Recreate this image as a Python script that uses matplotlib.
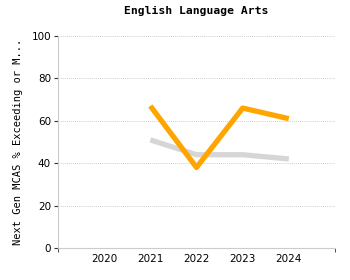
import numpy as np
from matplotlib import pyplot as plt

years = ['2020', '2021', '2022', '2023', '2024']
school = [np.nan, 67, 38, 66, 61]
state = [np.nan, 51, 44, 44, 42]
yticks = [0, 20, 40, 60, 80, 100]

plt.rcParams['font.family'] = 'DejaVu Sans'
fig = plt.figure(figsize=(3.5, 2.8), dpi=100)
ax = fig.add_axes([58/350, 1-248/280, (335-58)/350, (248-36)/280])

x = np.arange(len(years))
ax.plot(x, state, color='#d6d6d6', lw=3.8, solid_capstyle='butt', zorder=2)
ax.plot(x, school, color='#ffa500', lw=3.8, solid_capstyle='butt', zorder=3)

ax.set_xlim(-1, 5)
ax.set_ylim(0, 100)
ax.set_xticks(x)
ax.set_xticklabels(years)
ax.set_xticks([-1, 5], minor=True)
ax.set_yticks(yticks)
for s in ['top', 'right']:
    ax.spines[s].set_visible(False)
for s in ['left', 'bottom']:
    ax.spines[s].set_color('#cccccc')
ax.grid(axis='y', color='#bbbbbb', ls=(0, (1, 1.5)), lw=0.6)
for g in ax.get_ygridlines()[:1]:
    g.set_visible(False)
ax.tick_params(axis='x', which='major', length=0, labelsize=7.5, pad=4)
ax.tick_params(axis='x', which='minor', length=3, color='#333333')
ax.tick_params(axis='y', length=3, color='#333333', labelsize=7.5, pad=2)
ax.set_ylabel('Next Gen MCAS % Exceeding or M...', fontsize=7.5, family='DejaVu Sans Mono', labelpad=6)
ax.set_title('English Language Arts', fontsize=8.2, fontweight='bold', family='DejaVu Sans Mono', pad=16)

fig.savefig('out.png', dpi=100)
